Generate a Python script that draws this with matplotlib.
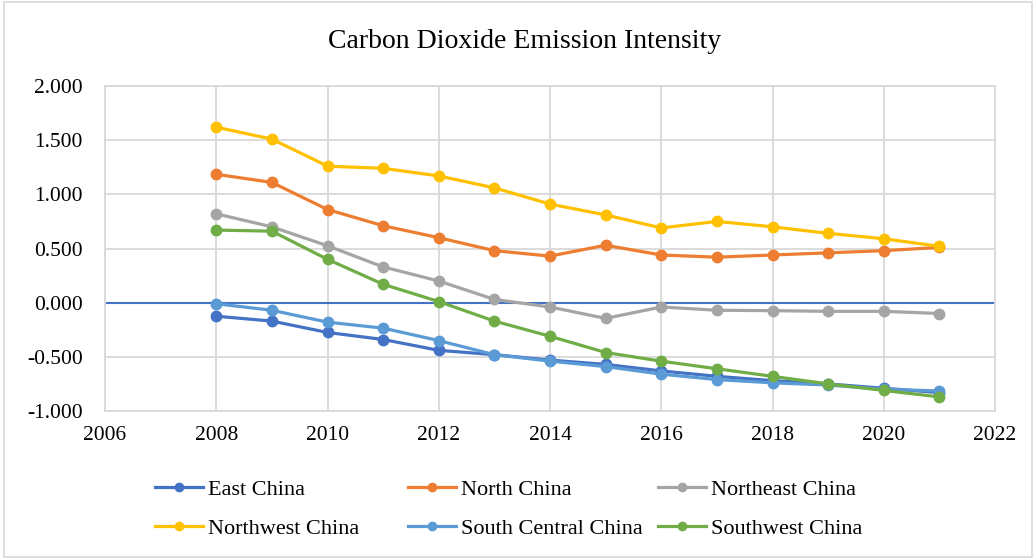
import matplotlib.pyplot as plt
from matplotlib.patches import Rectangle

plt.rcParams["font.family"] = ["Liberation Serif", "DejaVu Serif"]

years = list(range(2008, 2022))

east = [-0.125, -0.17, -0.275, -0.34, -0.44, -0.48, -0.53, -0.57, -0.63, -0.68, -0.72, -0.75, -0.79, -0.83]
north = [1.185, 1.11, 0.86, 0.71, 0.60, 0.48, 0.43, 0.53, 0.44, 0.42, 0.44, 0.46, 0.48, 0.51]
northeast = [0.82, 0.70, 0.525, 0.33, 0.20, 0.03, -0.04, -0.145, -0.04, -0.07, -0.074, -0.08, -0.08, -0.10]
northwest = [1.62, 1.51, 1.26, 1.24, 1.17, 1.06, 0.91, 0.81, 0.69, 0.75, 0.70, 0.64, 0.59, 0.52]
south_central = [-0.01, -0.07, -0.18, -0.235, -0.35, -0.48, -0.54, -0.59, -0.66, -0.71, -0.74, -0.76, -0.80, -0.815]
southwest = [0.67, 0.66, 0.40, 0.17, 0.01, -0.17, -0.31, -0.46, -0.54, -0.61, -0.68, -0.75, -0.81, -0.87]

series = [
    ("East China", east, "#4472C4"),
    ("North China", north, "#ED7D31"),
    ("Northeast China", northeast, "#A5A5A5"),
    ("Northwest China", northwest, "#FFC000"),
    ("South Central China", south_central, "#5B9BD5"),
    ("Southwest China", southwest, "#70AD47"),
]

W, H = 1036, 559
fig = plt.figure(figsize=(W / 100, H / 100), dpi=100)
ax = fig.add_axes([105 / W, 1 - 411 / H, (995 - 105) / W, (411 - 86) / H])

lines = {}
for name, vals, col in series:
    ln, = ax.plot(years, vals, color=col, lw=2.3, marker="o", ms=7.5, label=name, zorder=3)
    lines[name] = ln

ax.axhline(0, color="#4472C4", lw=1.5, zorder=2)

ax.set_xlim(2006, 2022)
ax.set_ylim(-1.0, 2.0)
ax.set_xticks(range(2006, 2023, 2))
ax.set_yticks([-1.0, -0.5, 0.0, 0.5, 1.0, 1.5, 2.0])
ax.set_yticklabels([f"{v:.3f}" for v in ax.get_yticks()])
ax.grid(True, color="#D9D9D9", lw=1.3, zorder=0)
for s in ax.spines.values():
    s.set_color("#D9D9D9")
    s.set_linewidth(1.3)
ax.tick_params(length=0, labelsize=15.5, colors="black")
ax.tick_params(axis="y", pad=16)
ax.tick_params(axis="x", pad=11)

fig.text(525 / W, 1 - 42 / H, "Carbon Dioxide Emission Intensity", ha="center", va="center", fontsize=20)

# one legend per column so the columns sit at fixed x positions
columns = [(155, ["East China", "Northwest China"]),
           (408, ["North China", "South Central China"]),
           (658, ["Northeast China", "Southwest China"])]
for x0, names in columns:
    fig.legend([lines[n] for n in names], names, loc="center left",
               bbox_to_anchor=(x0 / W, 1 - 509 / H), frameon=False, fontsize=16,
               borderpad=0, borderaxespad=0, handlelength=2.15, handletextpad=0.25,
               labelspacing=0.85, markerscale=0.8)

fig.patches.append(Rectangle((0.004, 0.003), 0.992, 0.994, transform=fig.transFigure,
                             fill=False, edgecolor="#D9D9D9", lw=1.2))

fig.savefig("out.png", dpi=100)
